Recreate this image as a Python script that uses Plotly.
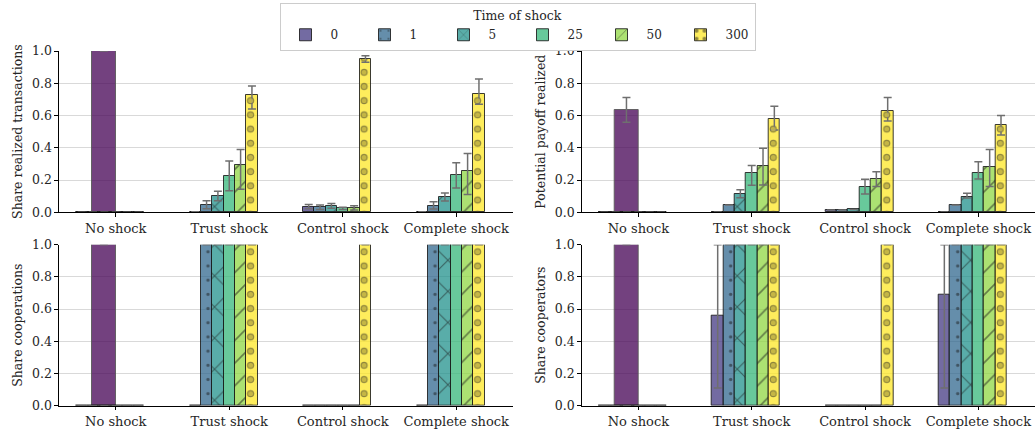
import plotly.graph_objects as go

# ---------------- data ----------------
categories = ["No shock", "Trust shock", "Control shock", "Complete shock"]
shock_times = ["0", "1", "5", "25", "50", "300"]

# Panel A: Share realized transactions (value, lower CI, upper CI) per time of shock, across categories
tx_val = {
    "0":   [0.0, 0.003, 0.035, 0.003],
    "1":   [0.0, 0.045, 0.030, 0.042],
    "5":   [0.0, 0.103, 0.040, 0.095],
    "25":  [0.0, 0.225, 0.025, 0.230],
    "50":  [0.0, 0.291, 0.028, 0.255],
    "300": [0.0, 0.727, 0.950, 0.731],
}
tx_lo = {
    "0":   [0.0, 0.003, 0.022, 0.003],
    "1":   [0.0, 0.022, 0.018, 0.020],
    "5":   [0.0, 0.072, 0.025, 0.070],
    "25":  [0.0, 0.134, 0.018, 0.150],
    "50":  [0.0, 0.143, 0.015, 0.110],
    "300": [0.0, 0.640, 0.930, 0.670],
}
tx_hi = {
    "0":   [0.0, 0.003, 0.048, 0.003],
    "1":   [0.0, 0.072, 0.045, 0.065],
    "5":   [0.0, 0.130, 0.055, 0.120],
    "25":  [0.0, 0.318, 0.032, 0.307],
    "50":  [0.0, 0.390, 0.040, 0.365],
    "300": [0.0, 0.783, 0.970, 0.826],
}
tx_noshock = [1.0, 1.0, 1.0]  # value, lower, upper

# Panel B: Potential payoff realized
pp_val = {
    "0":   [0.0, 0.002, 0.015, 0.002],
    "1":   [0.0, 0.045, 0.015, 0.045],
    "5":   [0.0, 0.114, 0.018, 0.097],
    "25":  [0.0, 0.246, 0.159, 0.246],
    "50":  [0.0, 0.289, 0.207, 0.281],
    "300": [0.0, 0.579, 0.628, 0.541],
}
pp_lo = {
    "0":   [0.0, 0.002, 0.015, 0.002],
    "1":   [0.0, 0.045, 0.015, 0.045],
    "5":   [0.0, 0.090, 0.018, 0.088],
    "25":  [0.0, 0.168, 0.114, 0.207],
    "50":  [0.0, 0.170, 0.160, 0.160],
    "300": [0.0, 0.510, 0.566, 0.480],
}
pp_hi = {
    "0":   [0.0, 0.002, 0.015, 0.002],
    "1":   [0.0, 0.045, 0.015, 0.045],
    "5":   [0.0, 0.140, 0.018, 0.118],
    "25":  [0.0, 0.290, 0.205, 0.314],
    "50":  [0.0, 0.397, 0.252, 0.390],
    "300": [0.0, 0.657, 0.711, 0.600],
}
pp_noshock = [0.633, 0.558, 0.711]

# Panel C: Share cooperations
co_val = {
    "0":   [0.0, 0.0, 0.0, 0.0],
    "1":   [0.0, 1.0, 0.0, 1.0],
    "5":   [0.0, 1.0, 0.0, 1.0],
    "25":  [0.0, 1.0, 0.0, 1.0],
    "50":  [0.0, 1.0, 0.0, 1.0],
    "300": [0.0, 1.0, 1.0, 1.0],
}
co_lo = co_val
co_hi = co_val
co_noshock = [1.0, 1.0, 1.0]

# Panel D: Share cooperators
cr_val = {
    "0":   [0.0, 0.557, 0.0, 0.690],
    "1":   [0.0, 1.0, 0.0, 1.0],
    "5":   [0.0, 1.0, 0.0, 1.0],
    "25":  [0.0, 1.0, 0.0, 1.0],
    "50":  [0.0, 1.0, 0.0, 1.0],
    "300": [0.0, 1.0, 1.0, 1.0],
}
cr_lo = {
    "0":   [0.0, 0.110, 0.0, 0.110],
    "1":   [0.0, 1.0, 0.0, 1.0],
    "5":   [0.0, 1.0, 0.0, 1.0],
    "25":  [0.0, 1.0, 0.0, 1.0],
    "50":  [0.0, 1.0, 0.0, 1.0],
    "300": [0.0, 1.0, 1.0, 1.0],
}
cr_hi = {
    "0":   [0.0, 1.0, 0.0, 1.0],
    "1":   [0.0, 1.0, 0.0, 1.0],
    "5":   [0.0, 1.0, 0.0, 1.0],
    "25":  [0.0, 1.0, 0.0, 1.0],
    "50":  [0.0, 1.0, 0.0, 1.0],
    "300": [0.0, 1.0, 1.0, 1.0],
}
cr_noshock = [1.0, 1.0, 1.0]

y_titles = ["Share realized transactions", "Potential payoff realized",
            "Share cooperations", "Share cooperators"]
y_ticks = [0.0, 0.2, 0.4, 0.6, 0.8, 1.0]

# ---------------- style ----------------
FONT = "DejaVu Serif"
TXT = "#262626"
viridis7 = ["#440154", "#443983", "#31688e", "#21918c", "#35b779", "#90d743", "#fde725"]


def rgba(hx, a=0.75):
    hx = hx.lstrip("#")
    r, g, b = int(hx[0:2], 16), int(hx[2:4], 16), int(hx[4:6], 16)
    return f"rgba({r},{g},{b},{a})"


level_color = {t: viridis7[i + 1] for i, t in enumerate(shock_times)}
noshock_color = viridis7[0]
TILE = 14.19
HATCH = "#1a1a1a"
pattern = {
    "0": dict(shape=""),
    "1": dict(shape=".", size=TILE, solidity=0.045, fgcolor=HATCH, fillmode="overlay"),
    "5": dict(shape="x", size=22, solidity=0.1, fgcolor=HATCH, fillmode="overlay"),
    "25": dict(shape=""),
    "50": dict(shape="/", size=16, solidity=0.1, fgcolor=HATCH, fillmode="overlay"),
    "300": dict(shape=".", size=TILE, solidity=0.2, fgcolor=HATCH, fillmode="overlay"),
}
BAR_W = 0.1
EDGE = dict(color="rgba(25,25,25,0.85)", width=1)
ERR_COLOR = "#6f6f6f"

W, H = 1035, 429
x_doms = [(59 / W, 513 / W), (581.7 / W, 1.0)]
y_doms = [(1 - 212.3 / H, 1 - 51 / H), (1 - 405.7 / H, 1 - 244.7 / H)]

panels = [
    (tx_val, tx_lo, tx_hi, tx_noshock),
    (pp_val, pp_lo, pp_hi, pp_noshock),
    (co_val, co_lo, co_hi, co_noshock),
    (cr_val, cr_lo, cr_hi, cr_noshock),
]

fig = go.Figure()
xpos = list(range(len(categories)))

for p, (vals, los, his, ns) in enumerate(panels):
    ax = "" if p == 0 else str(p + 1)
    xa, ya = "x" + ax, "y" + ax
    # no-shock baseline bar
    fig.add_trace(go.Bar(
        x=[xpos[0]], y=[ns[0]], xaxis=xa, yaxis=ya,
        offset=-0.21, width=0.21,
        marker=dict(color=rgba(noshock_color), line=dict(color="rgba(90,90,90,0.9)", width=1)),
        error_y=dict(type="data", symmetric=False, array=[ns[2] - ns[0]],
                     arrayminus=[ns[0] - ns[1]], color=ERR_COLOR, thickness=1.5, width=4),
        showlegend=False, hoverinfo="skip",
    ))
    for i, t in enumerate(shock_times):
        v, lo, hi = vals[t], los[t], his[t]
        fig.add_trace(go.Bar(
            x=xpos, y=v, xaxis=xa, yaxis=ya, name=t,
            offset=-0.35 + BAR_W * i, width=BAR_W,
            marker=dict(color=rgba(level_color[t]), line=EDGE, pattern=pattern[t]),
            error_y=dict(type="data", symmetric=False,
                         array=[h - a for h, a in zip(hi, v)],
                         arrayminus=[a - l for a, l in zip(v, lo)],
                         color=ERR_COLOR, thickness=1.5, width=4),
            showlegend=(p == 0), legendgroup=t,
        ))
        if t == "300":
            # hollow-ring effect: inner dots in bar colour over the dark dots
            fig.add_trace(go.Bar(
                x=xpos, y=v, xaxis=xa, yaxis=ya, name=t,
                offset=-0.35 + BAR_W * i, width=BAR_W,
                marker=dict(color="rgba(0,0,0,0)", line=dict(width=0),
                            pattern=dict(shape=".", size=TILE, solidity=0.095,
                                         fgcolor="#fdea50",
                                         bgcolor="rgba(0,0,0,0)", fillmode="overlay")),
                showlegend=False, legendgroup=t, hoverinfo="skip",
            ))

layout_axes = {}
for p in range(4):
    r, c = divmod(p, 2)
    ax = "" if p == 0 else str(p + 1)
    layout_axes["xaxis" + ax] = dict(
        domain=list(x_doms[c]), anchor="y" + ax, range=[-0.5, 3.5],
        tickmode="array", tickvals=xpos, ticktext=categories,
        showline=True, linecolor="#000", linewidth=1.2, mirror=False,
        ticks="outside", ticklen=3.5, tickcolor="#000", showgrid=False, zeroline=False,
        tickfont=dict(family=FONT, size=13, color=TXT), automargin=False,
    )
    layout_axes["yaxis" + ax] = dict(
        domain=list(y_doms[r]), anchor="x" + ax, range=[0, 1.0],
        tickmode="array", tickvals=y_ticks, tickformat=".1f",
        showline=True, linecolor="#000", linewidth=1.2,
        ticks="outside", ticklen=3.5, tickcolor="#000",
        showgrid=True, gridcolor="#d9d9d9", gridwidth=1, zeroline=False,
        tickfont=dict(family=FONT, size=12.5, color=TXT), automargin=False,
        title=dict(text=y_titles[p], font=dict(family=FONT, size=12.5, color=TXT), standoff=6),
    )

fig.update_layout(
    width=W, height=H, margin=dict(l=0, r=0, t=0, b=0),
    paper_bgcolor="white", plot_bgcolor="white",
    barmode="overlay", bargap=0,
    font=dict(family=FONT, size=12, color=TXT),
    legend=dict(
        orientation="h", x=0.5, xanchor="center", y=1 - 3 / H, yanchor="top",
        title=dict(text="Time of shock", side="top center",
                   font=dict(family=FONT, size=12.5, color=TXT)),
        font=dict(family=FONT, size=12, color=TXT),
        bordercolor="#cccccc", borderwidth=1, bgcolor="white",
        entrywidth=24, itemwidth=40, traceorder="normal", tracegroupgap=0,
    ),
    **layout_axes,
)

fig.write_html("out.html")
